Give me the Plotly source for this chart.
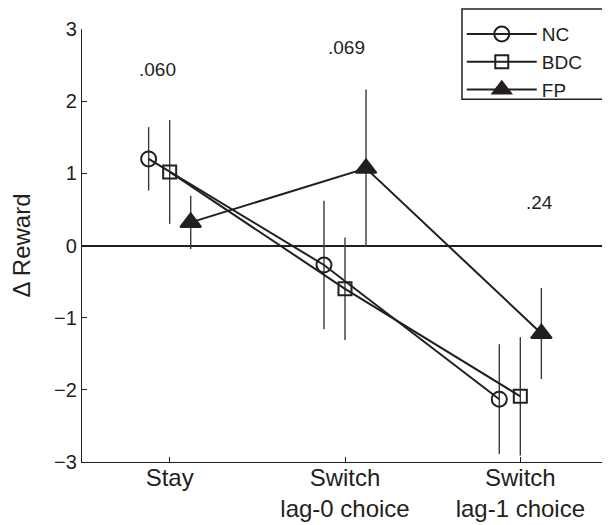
import plotly.graph_objects as go

categories = ["Stay", "Switch<br>lag-0 choice", "Switch<br>lag-1 choice"]
series_names = ["NC", "BDC", "FP"]
nc_mean = [1.20, -0.27, -2.13]
nc_err = [0.44, 0.89, 0.76]
bdc_mean = [1.02, -0.60, -2.09]
bdc_err = [0.72, 0.71, 0.82]
fp_mean = [0.32, 1.07, -1.22]
fp_err = [0.37, 1.09, 0.63]
p_values = [".060", ".069", ".24"]

INK = "#231f20"
FONT = "Liberation Sans, Arial, sans-serif"

cat_pos = [1, 2, 3]
offsets = {"NC": -0.12, "BDC": 0.0, "FP": 0.12}
symbols = {"NC": "circle-open", "BDC": "square-open", "FP": "triangle-up"}
msize = {"NC": 15, "BDC": 13, "FP": 18}
means = {"NC": nc_mean, "BDC": bdc_mean, "FP": fp_mean}
errs = {"NC": nc_err, "BDC": bdc_err, "FP": fp_err}

fig = go.Figure()
for name in series_names:
    fig.add_trace(go.Scatter(
        x=[c + offsets[name] for c in cat_pos],
        y=means[name],
        name=name,
        mode="lines+markers",
        line=dict(color=INK, width=2),
        marker=dict(symbol=symbols[name], size=msize[name], color=INK,
                    line=dict(color=INK, width=2)),
        error_y=dict(type="data", array=errs[name], visible=True,
                     color="#3a3a3a", thickness=1.4, width=0),
    ))

label_x = [0.93, 2.01, 3.11]
label_y = [2.44, 2.74, 0.59]
for t, lx, ly in zip(p_values, label_x, label_y):
    fig.add_annotation(x=lx, y=ly, text=t, showarrow=False,
                       font=dict(size=19, color=INK, family=FONT),
                       xanchor="center", yanchor="middle")

# legend frame (decoration) drawn as a paper-referenced rectangle
fig.add_shape(type="rect", xref="paper", yref="paper",
              x0=0.7224, x1=0.9905, y0=0.838, y1=1.046,
              line=dict(color=INK, width=1.5), fillcolor="white", layer="below")

# the page body adds an 8px offset, so the figure is sized 8px smaller
fig.update_layout(
    width=602, height=517,
    margin=dict(l=74, r=2, t=21, b=63, autoexpand=False),
    plot_bgcolor="white", paper_bgcolor="white",
    font=dict(family=FONT, color=INK),
    showlegend=True,
    legend=dict(x=0.722, y=1.032, xanchor="left", yanchor="top",
                borderwidth=0, bgcolor="rgba(0,0,0,0)",
                font=dict(size=19, color=INK, family=FONT),
                itemwidth=70),
    xaxis=dict(range=[0.5, 3.5], tickvals=cat_pos, ticktext=categories,
               showgrid=False, zeroline=False, showline=True,
               linecolor=INK, linewidth=1.2, ticks="inside", ticklen=5,
               tickcolor=INK, ticklabelstandoff=-6,
               tickfont=dict(size=24, color=INK, family=FONT)),
    yaxis=dict(range=[-3, 3], tickvals=[-3, -2, -1, 0, 1, 2, 3],
               ticktext=["\u22123", "\u22122", "\u22121", "0", "1", "2", "3"],
               showgrid=False, zeroline=True, zerolinecolor=INK, zerolinewidth=1.8,
               showline=True, linecolor=INK, linewidth=1.2,
               ticks="inside", ticklen=5, tickcolor=INK,
               tickfont=dict(size=20, color=INK, family=FONT),
               title=dict(text="\u0394 Reward", font=dict(size=24, color=INK, family=FONT),
                          standoff=18)),
)

fig.write_html("out.html")
